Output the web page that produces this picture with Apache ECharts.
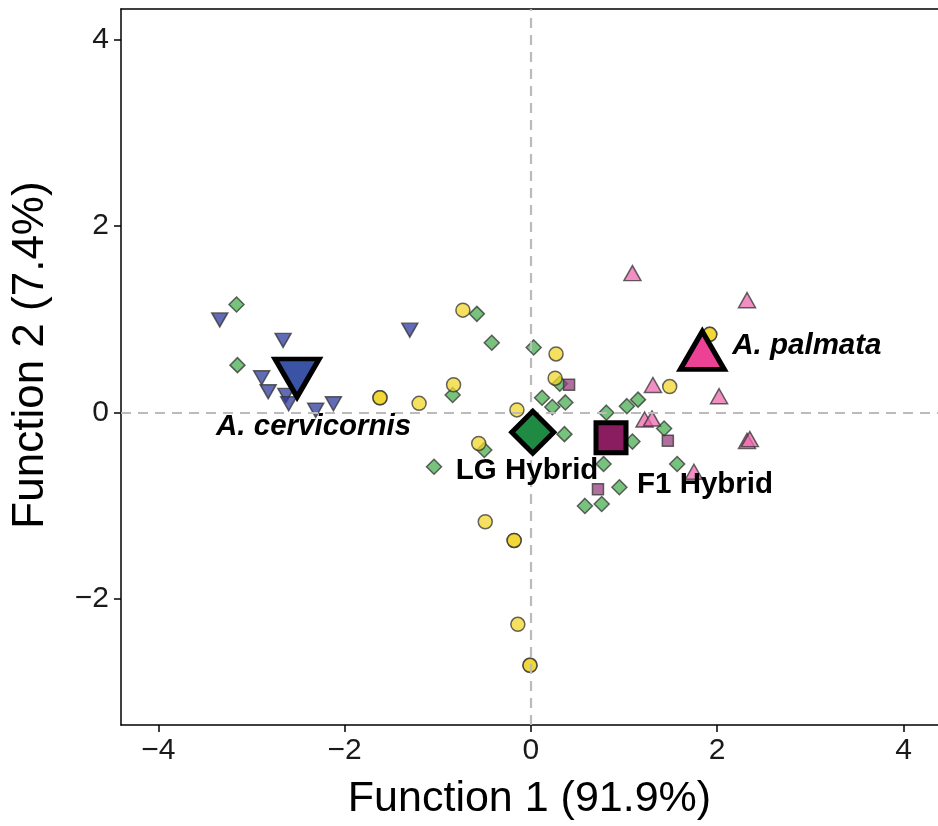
<!DOCTYPE html>
<html>
<head>
<meta charset="utf-8">
<script src="https://cdn.jsdelivr.net/npm/echarts@6/dist/echarts.min.js"></script>
<style>
  html, body { margin: 0; padding: 0; background: #fff; }
  #chart { width: 938px; height: 826px; }
</style>
</head>
<body>
<div id="chart"></div>
<script>
// 每组的判别得分 [Function 1, Function 2]
const cervicornis = [
  [-3.34, 1.02], [-2.66, 0.80], [-2.89, 0.40], [-2.82, 0.25], [-2.63, 0.21],
  [-2.60, 0.12], [-2.31, 0.05], [-2.12, 0.12], [-1.30, 0.91]
];
const lgHybrid = [
  [-3.16, 1.16], [-3.15, 0.51], [-0.58, 1.06], [-0.42, 0.75], [0.03, 0.70],
  [-0.84, 0.19], [0.12, 0.16], [0.23, 0.06], [-0.50, -0.40], [-1.04, -0.58],
  [0.31, 0.31], [0.37, 0.11], [0.36, -0.23], [0.81, 0.00], [1.03, 0.07],
  [1.15, 0.14], [1.43, -0.17], [1.09, -0.31], [0.78, -0.55], [1.57, -0.55],
  [0.95, -0.80], [0.58, -1.00], [0.76, -0.98]
];
const f1Hybrid = [[0.41, 0.30], [1.47, -0.30], [0.72, -0.82]];
const palmata = [
  [1.09, 1.47], [1.31, 0.27], [1.22, -0.10], [1.30, -0.09], [2.32, 1.18],
  [2.02, 0.15], [2.32, -0.33], [2.35, -0.31], [1.75, -0.66]
];
const unassigned = [
  [-0.73, 1.10], [-1.62, 0.16], [-1.62, 0.16], [-1.20, 0.10], [-0.83, 0.30],
  [-0.15, 0.03], [-0.56, -0.33], [0.27, 0.63], [0.26, 0.37], [-0.49, -1.17],
  [-0.18, -1.37], [-0.18, -1.37], [-0.14, -2.27], [-0.01, -2.71], [-0.01, -2.71],
  [1.49, 0.28], [1.92, 0.84], [1.92, 0.84]
];
// 组中心
const groupNames = ['A. cervicornis', 'LG Hybrid', 'F1 Hybrid', 'A. palmata'];
const centroids = [[-2.51, 0.44], [0.02, -0.21], [0.86, -0.27], [1.84, 0.60]];
const xTicks = [-4, -2, 0, 2, 4];
const yTicks = [-2, 0, 2, 4];

const font = 'Liberation Sans, Arial, Helvetica, sans-serif';
const minus = v => String(v).replace('-', '\u2212');

// 组中心的样式（符号、颜色、标签位置）
const centroidStyle = [
  { symbol: 'triangle', size: [44, 38], rotate: 180, offset: [0, 6.3], color: '#3A53A4', label: [-81, 55], italic: true },
  { symbol: 'diamond', size: [42, 42], rotate: 0, offset: [0, 0], color: '#1E8A42', label: [-77, 39], italic: false },
  { symbol: 'rect', size: [30, 30], rotate: 0, offset: [0, 0], color: '#8A1C60', label: [26, 47], italic: false },
  { symbol: 'triangle', size: [44, 38], rotate: 0, offset: [0, -6.3], color: '#EC4296', label: [30, -11], italic: true }
];

const small = (name, data, symbol, size, color, extra) => Object.assign({
  name: name,
  type: 'scatter',
  data: data,
  symbol: symbol,
  symbolSize: size,
  silent: true,
  z: 3,
  itemStyle: { color: color, borderColor: '#333', borderWidth: 1.5, opacity: 0.75 }
}, extra || {});

const chart = echarts.init(document.getElementById('chart'));

const axisLineStyle = { color: '#000', width: 1.5 };

const option = {
  animation: false,
  grid: { left: 121, top: 9, right: 0, bottom: 99 },
  xAxis: [{
    type: 'value', min: -4.4, max: 4.37,
    name: 'Function 1 (91.9%)', nameLocation: 'middle', nameGap: 53,
    nameTextStyle: { fontSize: 43, color: '#000', fontFamily: font },
    axisLine: { show: true, onZero: false, lineStyle: axisLineStyle },
    axisTick: { show: true, length: 7, customValues: xTicks, lineStyle: axisLineStyle },
    axisLabel: { customValues: xTicks, fontSize: 30, color: '#1a1a1a', margin: 11, fontFamily: font, formatter: minus },
    splitLine: { show: false }
  }, {
    // 顶部边框
    type: 'value', position: 'top', min: -4.4, max: 4.37,
    axisLine: { show: true, onZero: false, lineStyle: axisLineStyle },
    axisTick: { show: false }, axisLabel: { show: false }, splitLine: { show: false }
  }],
  yAxis: {
    type: 'value', min: -3.35, max: 4.33,
    name: 'Function 2 (7.4%)', nameLocation: 'middle', nameGap: 68,
    nameTextStyle: { fontSize: 44, color: '#000', fontFamily: font, padding: [0, 0, 0, 24] },
    axisLine: { show: true, onZero: false, lineStyle: axisLineStyle },
    axisTick: { show: true, length: 7, customValues: yTicks, lineStyle: axisLineStyle },
    axisLabel: { customValues: yTicks, fontSize: 30, color: '#1a1a1a', margin: 12, fontFamily: font, formatter: minus },
    splitLine: { show: false }
  },
  series: [
    {
      // 零参考线
      type: 'scatter', data: [], z: 1, silent: true,
      markLine: {
        silent: true, symbol: 'none', label: { show: false },
        lineStyle: { color: '#BBBBBB', width: 2.2, type: [10, 7] },
        data: [{ xAxis: 0 }, { yAxis: 0 }]
      }
    },
    small('LG Hybrid', lgHybrid, 'diamond', 15, '#49AD52'),
    small('A. cervicornis', cervicornis, 'triangle', [16, 14], '#2E3A9E', { symbolRotate: 180, symbolOffset: [0, 2.3] }),
    small('F1 Hybrid', f1Hybrid, 'rect', 11, '#953F7D'),
    small('A. palmata', palmata, 'triangle', [17, 15], '#EE6AAE', { symbolOffset: [0, -2.5] }),
    small('unassigned', unassigned, 'circle', 14, '#F2D52A'),
    {
      type: 'scatter', silent: true, z: 5,
      itemStyle: { opacity: 1 },
      data: centroids.map((c, i) => ({
        value: c,
        symbol: centroidStyle[i].symbol,
        symbolSize: centroidStyle[i].size,
        symbolRotate: centroidStyle[i].rotate,
        symbolOffset: centroidStyle[i].offset,
        itemStyle: { color: centroidStyle[i].color, borderColor: '#000', borderWidth: 5, borderJoin: 'miter', opacity: 1 }
      }))
    },
    {
      // 组名标签
      type: 'scatter', silent: true, z: 6,
      symbol: 'circle', symbolSize: 1,
      itemStyle: { color: 'rgba(0,0,0,0)', opacity: 1 },
      data: centroids.map((c, i) => ({
        value: c,
        label: {
          show: true, position: 'inside', align: 'left', verticalAlign: 'middle',
          offset: centroidStyle[i].label,
          formatter: groupNames[i],
          fontSize: 29.5, fontWeight: 'bold', color: '#000', fontFamily: font,
          fontStyle: centroidStyle[i].italic ? 'italic' : 'normal'
        }
      }))
    }
  ]
};

chart.setOption(option);
</script>
</body>
</html>
